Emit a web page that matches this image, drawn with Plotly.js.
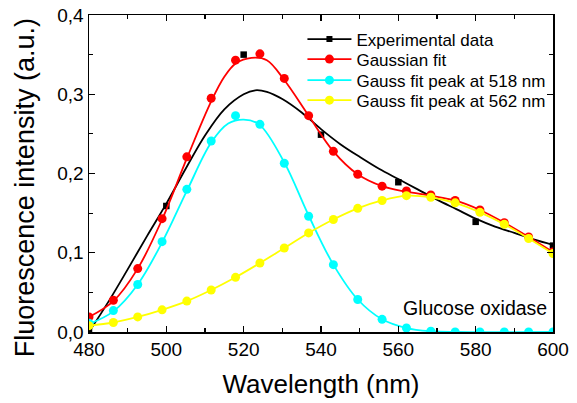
<!DOCTYPE html>
<html>
<head>
<meta charset="utf-8">
<script src="https://cdn.plot.ly/plotly-3.0.1.min.js"></script>
<style>html,body{margin:0;padding:0;background:#fff}#chart{width:577px;height:403px}</style>
</head>
<body>
<div id="chart"></div>
<script>
// Experimental data: smooth curve and measured points
const expCurveX = [480, 485, 490, 495, 500, 505, 510, 515, 520, 523, 526, 530, 535, 540, 545, 550, 555, 560, 565, 570, 575, 580, 585, 590, 595, 600];
const expCurveY = [0.000, 0.038, 0.079, 0.121, 0.162, 0.206, 0.248, 0.281, 0.300, 0.305, 0.303, 0.294, 0.277, 0.256, 0.237, 0.221, 0.206, 0.193, 0.180, 0.167, 0.155, 0.143, 0.133, 0.125, 0.117, 0.110];
const expPointX = [480, 500, 520, 540, 560, 580, 600];
const expPointY = [0.002, 0.159, 0.350, 0.249, 0.189, 0.139, 0.109];

// Marker wavelengths shared by the fit curves
const fitMarkX = [480, 486.3, 492.6, 498.9, 505.3, 511.6, 517.9, 524.2, 530.5, 536.8, 543.2, 549.5, 555.8, 562.1, 568.4, 574.7, 581.1, 587.4, 593.7, 600];

// Gaussian fit
const gaussMarkY = [0.019, 0.040, 0.080, 0.143, 0.221, 0.295, 0.343, 0.351, 0.320, 0.273, 0.228, 0.199, 0.184, 0.178, 0.173, 0.166, 0.154, 0.138, 0.120, 0.101];
const gaussLineX = [480, 486.3, 492.6, 498.9, 505.3, 511.6, 515, 518, 522, 526, 530.5, 536.8, 543.2, 549.5, 555.8, 562.1, 568.4, 574.7, 581.1, 587.4, 593.7, 600];
const gaussLineY = [0.019, 0.039, 0.080, 0.142, 0.219, 0.291, 0.322, 0.339, 0.346, 0.343, 0.318, 0.273, 0.228, 0.199, 0.184, 0.177, 0.172, 0.166, 0.154, 0.138, 0.120, 0.101];

// Gauss fit peak at 518 nm
const peak518MarkY = [0.011, 0.027, 0.060, 0.114, 0.180, 0.241, 0.273, 0.262, 0.213, 0.146, 0.085, 0.041, 0.016, 0.005, 0.001, 0.0, 0.0, 0.0, 0.0, 0.0];
const peak518LineX = [480, 486.3, 492.6, 498.9, 505.3, 511.6, 516, 520, 524, 530.5, 536.8, 543.2, 549.5, 555.8, 562.1, 568.4, 575, 600];
const peak518LineY = [0.010, 0.026, 0.060, 0.113, 0.178, 0.239, 0.263, 0.268, 0.262, 0.214, 0.147, 0.085, 0.041, 0.016, 0.005, 0.001, 0.0, 0.0];

// Gauss fit peak at 562 nm
const peak562MarkY = [0.008, 0.012, 0.019, 0.028, 0.039, 0.053, 0.069, 0.087, 0.106, 0.125, 0.142, 0.156, 0.166, 0.172, 0.170, 0.163, 0.151, 0.136, 0.118, 0.099];

const seriesNames = ["Experimental data", "Gaussian fit", "Gauss fit peak at 518 nm", "Gauss fit peak at 562 nm"];
const seriesColors = ["#000000", "#ff0000", "#00ffff", "#ffff00"];

const LW = 1.8;
const traces = [
  {x: expCurveX, y: expCurveY, mode: 'lines', line: {color: seriesColors[0], width: LW, shape: 'spline'}, showlegend: false, hoverinfo: 'skip'},
  {x: expPointX, y: expPointY, mode: 'markers', marker: {symbol: 'square', size: 6.5, color: seriesColors[0]}, showlegend: false},
  {x: gaussLineX, y: gaussLineY, mode: 'lines', line: {color: seriesColors[1], width: LW, shape: 'spline'}, showlegend: false, hoverinfo: 'skip'},
  {x: fitMarkX, y: gaussMarkY, mode: 'markers', marker: {symbol: 'circle', size: 9, color: seriesColors[1]}, showlegend: false},
  {x: peak518LineX, y: peak518LineY, mode: 'lines', line: {color: seriesColors[2], width: LW, shape: 'spline'}, showlegend: false, hoverinfo: 'skip'},
  {x: fitMarkX, y: peak518MarkY, mode: 'markers', marker: {symbol: 'circle', size: 9, color: seriesColors[2]}, showlegend: false},
  {x: fitMarkX, y: peak562MarkY, mode: 'lines+markers', line: {color: seriesColors[3], width: LW, shape: 'spline'}, marker: {symbol: 'circle', size: 9, color: seriesColors[3]}, showlegend: false}
];
// legend entries, one small legend per row for exact row spacing
const legendSymbols = ['square', 'circle', 'circle', 'circle'];
const legendIds = ['legend', 'legend2', 'legend3', 'legend4'];
const legendRowY = [0.9226, 0.8594, 0.793, 0.7299];
seriesNames.forEach((n, i) => {
  traces.push({x: [null], y: [null], name: n, mode: 'lines+markers', legend: legendIds[i],
    line: {color: seriesColors[i], width: LW},
    marker: {symbol: legendSymbols[i], size: i === 0 ? 6 : 9, color: seriesColors[i]}});
});

const FONT = 'Arial, "Liberation Sans", sans-serif';
const layout = {
  width: 577, height: 403,
  margin: {l: 89, r: 24, t: 15, b: 71},
  paper_bgcolor: '#fff', plot_bgcolor: '#fff',
  separators: ', ',
  font: {family: FONT, color: '#000', size: 19},
  showlegend: true,
  xaxis: {
    range: [480, 600], dtick: 20, tick0: 480,
    showgrid: false, zeroline: false,
    showline: true, linecolor: '#000', linewidth: 1.5, mirror: 'allticks',
    ticks: 'inside', ticklen: 6, tickwidth: 1.2, tickcolor: '#000',
    minor: {dtick: 10, ticks: 'inside', ticklen: 4, tickwidth: 1.2, tickcolor: '#000', showgrid: false},
    tickfont: {family: FONT, size: 19, color: '#000'},
    title: {text: 'Wavelength (nm)', font: {family: FONT, size: 26, color: '#000'}, standoff: 15}
  },
  yaxis: {
    range: [0, 0.4], dtick: 0.1, tick0: 0, tickformat: '.1f',
    showgrid: false, zeroline: false,
    showline: true, linecolor: '#000', linewidth: 1.5, mirror: 'allticks',
    ticks: 'inside', ticklen: 6, tickwidth: 1.2, tickcolor: '#000',
    minor: {dtick: 0.05, ticks: 'inside', ticklen: 4, tickwidth: 1.2, tickcolor: '#000', showgrid: false}
    ,tickfont: {family: FONT, size: 19, color: '#000'}
  },
  annotations: [{
    text: 'Glucose oxidase', xref: 'paper', yref: 'paper', x: 0.991, y: 0.076,
    xanchor: 'right', yanchor: 'middle', showarrow: false,
    font: {family: FONT, size: 19.5, color: '#000'}
  }, {
    text: 'Fluorescence intensity (a.u.)', xref: 'paper', yref: 'paper', x: -0.138, y: 0.4566,
    xanchor: 'center', yanchor: 'middle', textangle: -90, showarrow: false,
    font: {family: FONT, size: 27, color: '#000'}
  }]
};
legendIds.forEach((id, i) => {
  layout[id] = {x: 0.46, y: legendRowY[i], xanchor: 'left', yanchor: 'middle', bgcolor: 'rgba(0,0,0,0)',
    font: {family: FONT, size: 17, color: '#000'}, itemwidth: 44};
});

Plotly.newPlot('chart', traces, layout, {staticPlot: true, displayModeBar: false});
</script>
</body>
</html>
